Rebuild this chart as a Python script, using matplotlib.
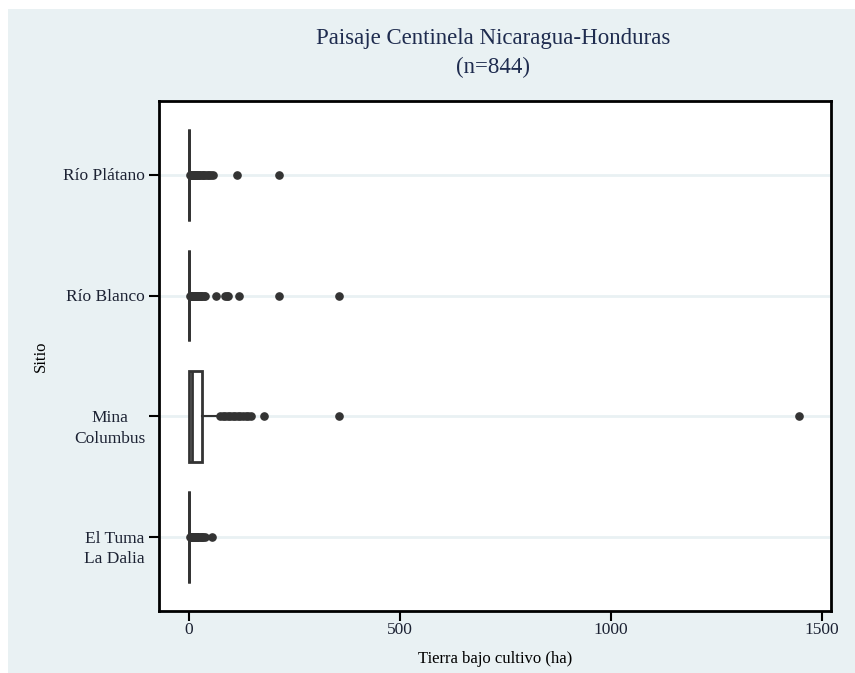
import matplotlib.pyplot as plt
from matplotlib.patches import Rectangle
from matplotlib.transforms import ScaledTranslation

plt.rcParams['font.family'] = ['Liberation Serif', 'DejaVu Serif']

# sites, top to bottom
sitios = ['Río Plátano', 'Río Blanco', 'Mina\nColumbus', 'El Tuma\nLa Dalia']

# box summaries (ha)
q1 = [0, 0, 0, 0]
mediana = [0, 0, 8, 0]
q3 = [0, 0, 31, 0]
bigote_inf = [0, 0, 0, 0]
bigote_sup = [0, 0, 68, 0]

# outside values per site
atipicos = [
    [2, 4, 5, 7, 9, 11, 13, 15, 17, 19, 21, 24, 27, 30, 33, 36, 40, 44, 48, 52, 57, 114, 213],
    [2, 4, 6, 8, 10, 12, 14, 16, 18, 20, 23, 26, 29, 32, 35, 38, 64, 85, 90, 93, 118, 213, 355],
    [74, 80, 86, 92, 98, 104, 110, 116, 122, 128, 134, 140, 147, 178, 355, 1445],
    [2, 4, 6, 8, 10, 12, 14, 16, 18, 20, 22, 25, 28, 31, 34, 38, 54],
]

fondo = '#e9f1f3'
oscuro = '#333333'

fig = plt.figure(figsize=(8.55, 6.73), dpi=100, facecolor='white')
fig.patches.append(Rectangle((8 / 855, 0), 1, 1 - 9 / 673, transform=fig.transFigure,
                             facecolor=fondo, edgecolor='none', zorder=-10))

ax = fig.add_axes([159 / 855, 1 - 611 / 673, 672 / 855, 510 / 673])
ax.set_facecolor('white')

pos = [3, 2, 1, 0]
stats = []
for i in range(len(sitios)):
    stats.append(dict(med=mediana[i], q1=q1[i], q3=q3[i], whislo=bigote_inf[i],
                      whishi=bigote_sup[i], fliers=atipicos[i], label=sitios[i]))

for p in pos:
    ax.axhline(p, color=fondo, lw=2, zorder=0.5)

ax.bxp(stats, positions=pos, vert=False, widths=0.76, showcaps=False,
       patch_artist=True,
       boxprops=dict(facecolor='white', edgecolor=oscuro, linewidth=2),
       medianprops=dict(color=oscuro, linewidth=2),
       whiskerprops=dict(color=oscuro, linewidth=1.5),
       flierprops=dict(marker='o', markerfacecolor=oscuro, markeredgecolor=oscuro,
                       markersize=5.2))

ax.set_xlim(-71, 1521)
ax.set_ylim(-0.61, 3.61)
ax.set_xticks([0, 500, 1000, 1500])
ax.set_yticks(pos)
ax.set_yticklabels(sitios, multialignment='center', linespacing=1.4)
ax.tick_params(axis='both', length=7, width=1.5, color='black', labelsize=12.5,
               labelcolor='#1c2233')
ax.tick_params(axis='x', pad=1)
ax.tick_params(axis='y', pad=3)

# first line of each site label sits on its tick
desplaza = ScaledTranslation(0, 4.8 / 72, fig.dpi_scale_trans)
for lbl in ax.get_yticklabels():
    lbl.set_verticalalignment('top')
    lbl.set_transform(lbl.get_transform() + desplaza)

for s in ax.spines.values():
    s.set_linewidth(2)
    s.set_color('black')

ax.set_xlabel('Tierra bajo cultivo (ha)', fontsize=12, labelpad=9)
ax.set_ylabel('Sitio', fontsize=12, labelpad=10)

fig.text(493 / 855, 1 - 53 / 673, 'Paisaje Centinela Nicaragua-Honduras\n(n=844)',
         ha='center', va='center', fontsize=16.5, color='#1f2c4f', linespacing=1.5)

fig.savefig('out.png', dpi=100, facecolor=fig.get_facecolor())
